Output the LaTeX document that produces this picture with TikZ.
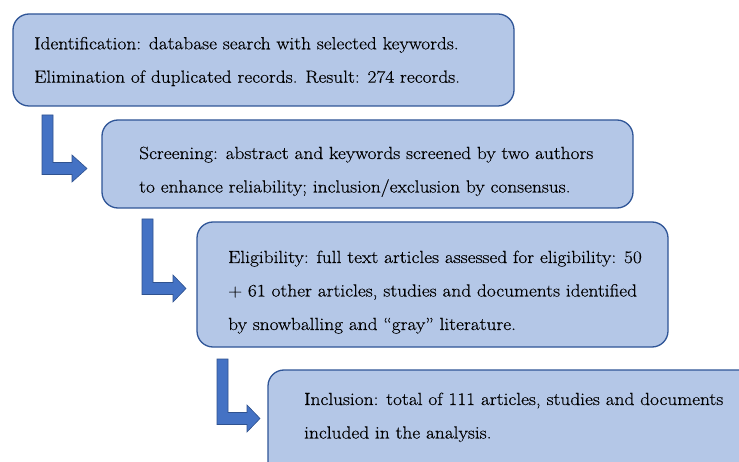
\documentclass[tikz,border=0pt]{standalone}
\usepackage{fontspec}
\setmainfont{Latin Modern Roman}[FakeStretch=1.1,FakeBold=0.4]
\usetikzlibrary{calc}
\definecolor{boxfill}{HTML}{B4C7E7}
\definecolor{boxline}{HTML}{2F5597}
\definecolor{arrfill}{HTML}{4472C4}
\definecolor{arrline}{HTML}{2F528F}
\tikzset{
  stagebox/.style={draw=boxline, line width=1.3pt, fill=boxfill, rounded corners=16pt},
  txt/.style={anchor=base west, inner sep=0pt, text=black, font=\fontsize{17.6}{20}\selectfont},
  bentarrow/.style={fill=arrfill, draw=arrline, line width=0.6pt, line join=miter},
}
% #1 x of shaft left, #2 top y, #3 bar centre y, #4 head start x, #5 tip x
\newcommand{\bentarr}[5]{%
  \path[bentarrow] (#1,#2) -- ++(11,0) -- (#1+11,#3-6) -- (#4,#3-6) -- (#4,#3-13.5)
    -- (#5,#3) -- (#4,#3+13.5) -- (#4,#3+6) -- (#1,#3+6) -- cycle;}
\begin{document}
\begin{tikzpicture}[x=1pt,y=-1pt]
\useasboundingbox (0,0) rectangle (739,462);
\clip (0,0) rectangle (739,462);
\fill[white] (0,0) rectangle (739,462);
% boxes
\draw[stagebox] (13,14) rectangle (514,106);
\draw[stagebox] (102,120) rectangle (633,208);
\draw[stagebox] (197,222) rectangle (668,347);
\draw[stagebox] (268,370) rectangle (770,490);
\node[inner sep=0pt] (b1) at (263.5,60) {};
\node[inner sep=0pt] (b2) at (367.5,164) {};
\node[inner sep=0pt] (b3) at (432.5,284.5) {};
\node[inner sep=0pt] (b4) at (519,430) {};
% texts
\node[txt] (t11) at (34,49.3) {Identification: database search with selected keywords.};
\node[txt] (t12) at (34,82.7) {Elimination of duplicated records. Result: 274 records.};
\node[txt] (t21) at (139,159) {Screening: abstract and keywords screened by two authors};
\node[txt] (t22) at (139,192.5) {to enhance reliability; inclusion/exclusion by consensus.};
\node[txt] (t31) at (228,263) {Eligibility: full text articles assessed for eligibility: 50};
\node[txt] (t32) at (228,296.5) {+ 61 other articles, studies and documents identified};
\node[txt] (t33) at (228,330) {by snowballing and “gray” literature.};
\node[txt] (t41) at (304,405) {Inclusion: total of 111 articles, studies and documents};
\node[txt] (t42) at (304,438.5) {included in the analysis.};
% bent arrows
\bentarr{42}{115}{168.5}{72}{87}
\bentarr{142}{219}{288.5}{173}{186}
\bentarr{217}{359}{418.5}{247}{260}
\end{tikzpicture}
\end{document}
